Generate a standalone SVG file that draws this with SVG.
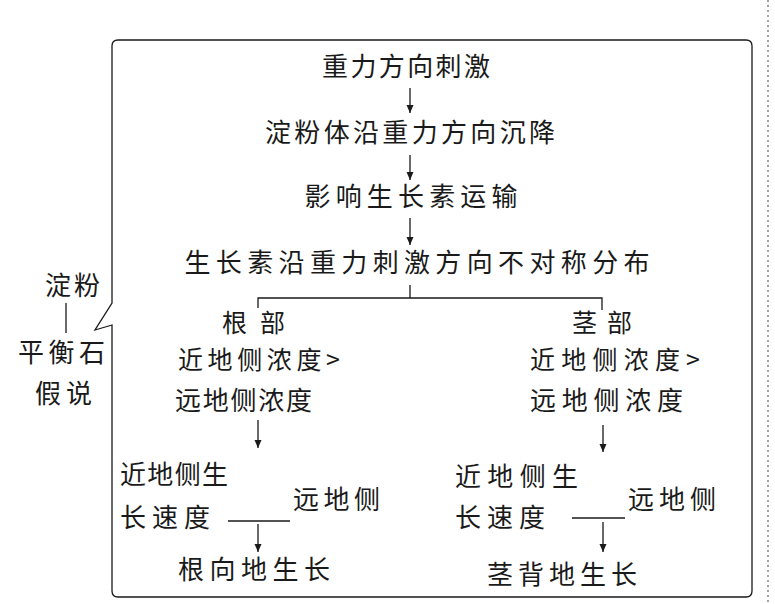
<svg xmlns="http://www.w3.org/2000/svg" width="775" height="604" viewBox="0 0 775 604">
<defs>
<style>
text{font-family:"Noto Sans CJK SC","Noto Sans CJK JP",sans-serif;font-size:26px;fill:#1a1a1a}
.c{text-anchor:middle}
.s{font-size:25px}
.ln{stroke:#1a1a1a;stroke-width:1.3;fill:none}
</style>
<marker id="ah" viewBox="0 0 8 10" refX="8" refY="5" markerWidth="8" markerHeight="10" markerUnits="userSpaceOnUse" orient="auto">
<path d="M0,1.5 L8,5 L0,8.5 Z" fill="#1a1a1a"/>
</marker>
</defs>
<rect width="775" height="604" fill="#fff"/>
<line x1="768" y1="0" x2="768" y2="604" stroke="#666" stroke-width="1.2" stroke-dasharray="2,3"/>
<g id="frame">
<path class="ln" d="M112,303 L112,46 Q112,40 118,40 L746,40 Q752,40 752,46 L752,591 Q752,597 746,597 L118,597 Q112,597 112,591 L112,325 L95,330 Z" stroke-linejoin="miter"/>
</g>
<g id="side">
<text x="45" y="295" textLength="55" lengthAdjust="spacing">淀粉</text>
<line class="ln" x1="66" y1="303" x2="66" y2="333"/>
<text x="18" y="362" textLength="87" lengthAdjust="spacing">平衡石</text>
<text x="35" y="403" textLength="57" lengthAdjust="spacing">假说</text>
</g>
<g id="connectors">
<line class="ln" x1="410" y1="88" x2="410" y2="113" marker-end="url(#ah)"/>
<line class="ln" x1="410" y1="155" x2="410" y2="180" marker-end="url(#ah)"/>
<line class="ln" x1="410" y1="218" x2="410" y2="245" marker-end="url(#ah)"/>
<path class="ln" d="M410,285 L410,298 M258,308 L258,298 L602,298 L602,310"/>
<line class="ln" x1="258" y1="420" x2="258" y2="448" marker-end="url(#ah)"/>
<line class="ln" x1="603" y1="425" x2="603" y2="452" marker-end="url(#ah)"/>
<line class="ln" x1="228" y1="521" x2="290" y2="521"/>
<line class="ln" x1="258" y1="524" x2="258" y2="552" marker-end="url(#ah)"/>
<line class="ln" x1="572" y1="518" x2="625" y2="518"/>
<line class="ln" x1="603" y1="522" x2="603" y2="552" marker-end="url(#ah)"/>
</g>
<g id="n1"><text class="c" x="406" y="76" textLength="168" lengthAdjust="spacing">重力方向刺激</text></g>
<g id="n2"><text class="c" x="410" y="142" textLength="290" lengthAdjust="spacing">淀粉体沿重力方向沉降</text></g>
<g id="n3"><text class="c" x="411" y="206" textLength="213" lengthAdjust="spacing">影响生长素运输</text></g>
<g id="n4"><text class="c" x="417" y="272" textLength="465" lengthAdjust="spacing">生长素沿重力刺激方向不对称分布</text></g>
<g id="root">
<text class="s" x="222" y="332" textLength="63" lengthAdjust="spacing">根部</text>
<text class="s" x="178" y="369" textLength="162" lengthAdjust="spacing">近地侧浓度&gt;</text>
<text x="175" y="410" textLength="137" lengthAdjust="spacing">远地侧浓度</text>
</g>
<g id="stem">
<text class="s" x="572" y="332" textLength="60" lengthAdjust="spacing">茎部</text>
<text class="s" x="530" y="369" textLength="170" lengthAdjust="spacing">近地侧浓度&gt;</text>
<text x="530" y="410" textLength="153" lengthAdjust="spacing">远地侧浓度</text>
</g>
<g id="root-rate">
<text x="120" y="484" textLength="108" lengthAdjust="spacing">近地侧生</text>
<text x="120" y="527" textLength="90" lengthAdjust="spacing">长速度</text>
<text x="293" y="509" textLength="87" lengthAdjust="spacing">远地侧</text>
</g>
<g id="root-result"><text x="178" y="579" textLength="152" lengthAdjust="spacing">根向地生长</text></g>
<g id="stem-rate">
<text x="455" y="486" textLength="123" lengthAdjust="spacing">近地侧生</text>
<text x="455" y="527" textLength="90" lengthAdjust="spacing">长速度</text>
<text x="628" y="509" textLength="88" lengthAdjust="spacing">远地侧</text>
</g>
<g id="stem-result"><text x="487" y="584" textLength="150" lengthAdjust="spacing">茎背地生长</text></g>
</svg>
